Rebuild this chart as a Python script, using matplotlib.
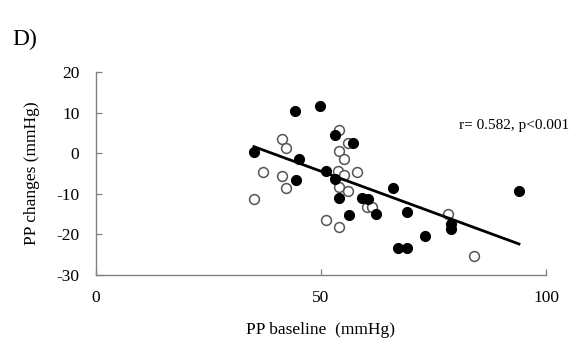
import matplotlib
matplotlib.use("Agg")
import matplotlib.pyplot as plt
import numpy as np

plt.rcParams['font.family'] = ['Liberation Serif', 'DejaVu Serif']
plt.rcParams['axes.unicode_minus'] = False

# PP baseline (mmHg) vs PP change (mmHg), two groups
filled_x = [35.1, 44.2, 49.8, 44.4, 45.1, 51.2, 53.0, 57.1, 53.1, 54.0, 59.1, 60.4,
            56.2, 62.3, 66.1, 69.1, 73.1, 67.2, 69.2, 94.0, 78.9, 78.9]
filled_y = [0.4, 10.3, 11.6, -6.5, -1.4, -4.3, 4.5, 2.5, -6.3, -11.1, -11.1, -11.2,
            -15.3, -15.0, -8.5, -14.5, -20.4, -23.4, -23.4, -9.4, -17.5, -18.7]

open_x = [54.1, 55.9, 54.0, 55.0, 53.8, 55.1, 58.1, 54.0, 56.0, 60.3, 61.4, 51.2,
          54.0, 41.3, 42.3, 37.1, 41.3, 42.3, 35.1, 78.2, 84.0]
open_y = [5.8, 2.6, 0.5, -1.5, -4.4, -5.4, -4.7, -8.4, -9.4, -13.2, -13.2, -16.5,
          -18.3, 3.4, 1.3, -4.7, -5.5, -8.5, -11.3, -15.0, -25.4]

# Least-squares line
fit_slope = -0.407
fit_intercept = 15.9

x_ticks = [0, 50, 100]
y_ticks = [-30, -20, -10, 0, 10, 20]
stat_text = "r= 0.582, p<0.001"

fig = plt.figure(figsize=(5.79, 3.43), dpi=100)
ax = fig.add_axes([96 / 579, 1 - 275 / 343, 450 / 579, 203 / 343])

ax.scatter(open_x, open_y, s=50, facecolors='white', edgecolors='#555555',
           linewidths=1.1, zorder=3)
ax.scatter(filled_x, filled_y, s=52, facecolors='black', edgecolors='black',
           linewidths=0.8, zorder=4)

all_x = np.array(filled_x + open_x)
xl = np.array([all_x.min(), all_x.max()])
ax.plot(xl, fit_slope * xl + fit_intercept, color='black', lw=2.0, zorder=5)

ax.set_xlim(0, 100)
ax.set_ylim(-30, 20)
ax.set_xticks(x_ticks)
ax.set_yticks(y_ticks)
ax.tick_params(direction='in', length=4, width=0.9, color='#808080',
               labelsize=12.5)
ax.tick_params(axis='x', pad=11)
ax.tick_params(axis='y', pad=12)
for side in ('top', 'right'):
    ax.spines[side].set_visible(False)
for side in ('left', 'bottom'):
    ax.spines[side].set_color('#808080')
    ax.spines[side].set_linewidth(1.0)

ax.set_xlabel("PP baseline  (mmHg)", fontsize=12.5, labelpad=11)
ax.set_ylabel("PP changes (mmHg)", fontsize=12.5, labelpad=12)

ax.text(459 / 579, 1 - 126 / 343, stat_text, transform=fig.transFigure,
        fontsize=11, va='center', ha='left')
fig.text(12 / 579, 1 - 39 / 343, "D)", fontsize=17, va='center', ha='left')

fig.savefig("out.png", dpi=100)
